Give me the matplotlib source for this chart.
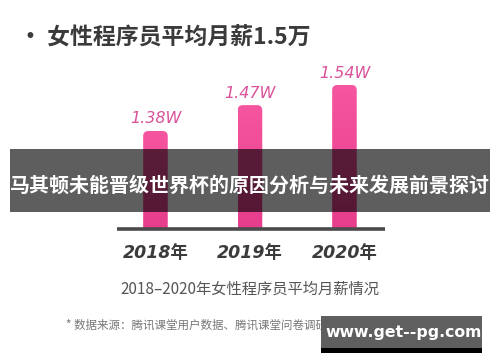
import matplotlib
matplotlib.use("Agg")
import matplotlib.pyplot as plt
import matplotlib.transforms as mtransforms
import numpy as np
from matplotlib.patches import FancyBboxPatch, Rectangle
from matplotlib.colors import LinearSegmentedColormap

plt.rcParams['font.family'] = ['Noto Sans CJK SC', 'DejaVu Sans']

years = ['2018年', '2019年', '2020年']
salaries = [1.38, 1.47, 1.54]
value_labels = ['1.38W', '1.47W', '1.54W']
title = '• 女性程序员平均月薪1.5万'
subtitle = '2018–2020年女性程序员平均月薪情况'
source = '* 数据来源：腾讯课堂用户数据、腾讯课堂问卷调研数据、猎聘用户数据'
banner = '马其顿未能晋级世界杯的原因分析与未来发展前景探讨'
watermark = 'www.get--pg.com'

W, H = 500, 362
fig = plt.figure(figsize=(5, 3.62), dpi=100)
fig.patch.set_facecolor('white')


def fx(px):
    return px / W


def fy(py):
    return 1 - py / H


ax = fig.add_axes([fx(117), fy(229), fx(385) - fx(117), fy(60) - fy(229)])
XL = (-0.407, 2.429)
YL = (1.039, 1.627)
ax.set_xlim(*XL)
ax.set_ylim(*YL)
ax.axis('off')

x = np.arange(len(years))
bars = ax.bar(x, salaries, width=0.26, color='none', edgecolor='none')

grad = np.linspace(0, 1, 100).reshape(-1, 1)
cmap = LinearSegmentedColormap.from_list('pk', ['#e63d8d', '#f6559f'])
for b in bars:
    x0, y0, w, h = b.get_x(), b.get_y(), b.get_width(), b.get_height()
    patch = FancyBboxPatch((x0, y0), w, h,
                           boxstyle='round,pad=0,rounding_size=0.055',
                           mutation_aspect=94.5 / 287.5,
                           facecolor='none', edgecolor='none')
    ax.add_patch(patch)
    im = ax.imshow(grad, extent=[x0, x0 + w, YL[0], y0 + h], origin='lower',
                   cmap=cmap, aspect='auto', zorder=2)
    im.set_clip_path(patch)
ax.set_xlim(*XL)
ax.set_ylim(*YL)

# baseline
ax.plot(XL, [YL[0], YL[0]], color='#4a4a4a', lw=2.6, solid_capstyle='butt',
        clip_on=False, zorder=3)

for xi, v, lab in zip(x, salaries, value_labels):
    ax.annotate(lab, (xi, v), xytext=(0, 12), textcoords='offset pixels',
                ha='center', va='center', fontsize=11.5, color='#d9529a',
                style='italic', family=['DejaVu Sans'])

blend = mtransforms.blended_transform_factory(ax.transData, fig.transFigure)
for xi, lab in zip(x, years):
    ax.text(xi, fy(253), lab, transform=blend, ha='center', va='center',
            fontsize=12.5, fontweight='bold', color='#3b3b3b', style='italic',
            family=['DejaVu Sans', 'Noto Sans CJK SC'])

fig.text(fx(19), fy(38), title, ha='left', va='center', fontsize=16.5,
         fontweight='bold', color='#3a3a3a')
fig.text(fx(250), fy(289), subtitle, ha='center', va='center', fontsize=11,
         color='#555555')
fig.text(fx(66), fy(325), source, ha='left', va='center', fontsize=8.3,
         color='#777777')

# banner overlay
fig.patches.append(Rectangle((fx(10), fy(212)), fx(490) - fx(10), fy(149) - fy(212),
                             transform=fig.transFigure, facecolor='black',
                             alpha=0.63, edgecolor='none', zorder=5))
fig.text(fx(250), fy(185), banner, ha='center', va='center', fontsize=14.4,
         fontweight='bold', color='white', zorder=6)

# watermark
fig.patches.append(Rectangle((fx(321), fy(348)), fx(482) - fx(321), fy(316) - fy(348),
                             transform=fig.transFigure, facecolor='#5f5f5f',
                             edgecolor='none', zorder=5))
fig.patches.append(Rectangle((fx(321), fy(353)), fx(482) - fx(321), fy(348) - fy(353),
                             transform=fig.transFigure, facecolor='black',
                             edgecolor='none', zorder=5))
fig.text(fx(404), fy(332), watermark, ha='center', va='center', fontsize=11.3,
         fontweight='bold', color='white', zorder=6, family=['DejaVu Sans'])

fig.savefig('out.png', dpi=100, facecolor='white')
